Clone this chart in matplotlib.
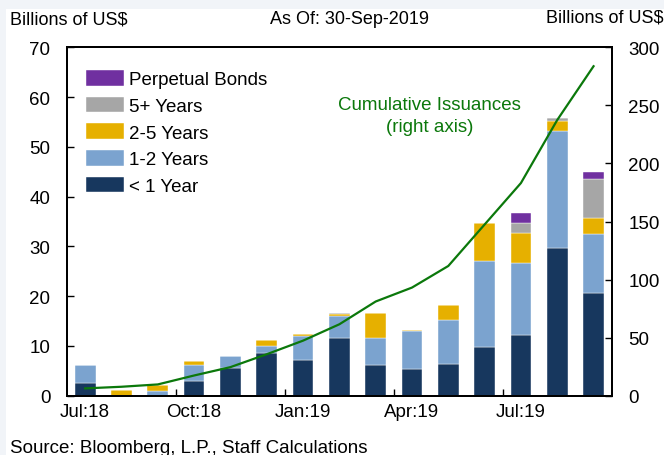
import matplotlib
matplotlib.use("Agg")
import matplotlib.pyplot as plt
import numpy as np
from matplotlib.patches import Rectangle

plt.rcParams['font.family'] = ['Liberation Sans', 'DejaVu Sans']

months = ["Jul:18", "Aug:18", "Sep:18", "Oct:18", "Nov:18", "Dec:18", "Jan:19",
          "Feb:19", "Mar:19", "Apr:19", "May:19", "Jun:19", "Jul:19", "Aug:19", "Sep:19"]
lt1y = [2.5, 0.0, 0.0, 2.9, 5.5, 8.5, 7.1, 11.6, 6.1, 5.3, 6.3, 9.7, 12.1, 29.6, 20.7]
y1to2 = [3.6, 0.0, 0.9, 3.2, 2.5, 1.5, 4.8, 4.5, 5.5, 7.6, 9.0, 17.4, 14.5, 23.5, 11.8]
y2to5 = [0.0, 1.1, 1.3, 0.8, 0.0, 1.2, 0.4, 0.3, 5.1, 0.2, 2.9, 7.6, 6.0, 2.0, 3.2]
y5plus = [0.0, 0.0, 0.0, 0.0, 0.0, 0.0, 0.0, 0.2, 0.0, 0.0, 0.0, 0.0, 2.0, 0.6, 7.8]
perpetual = [0.0, 0.0, 0.0, 0.0, 0.0, 0.0, 0.0, 0.0, 0.0, 0.0, 0.0, 0.0, 2.2, 0.0, 1.5]
cumulative = [6.3, 7.7, 9.7, 17.4, 24.6, 35.7, 47.4, 61.5, 81.1, 93.1, 111.7, 147.4, 183.1, 237.4, 283.7]
xtick_labels = ["Jul:18", "Oct:18", "Jan:19", "Apr:19", "Jul:19"]

W, H = 664, 456
fig = plt.figure(figsize=(W / 100, H / 100), dpi=100)
fig.patch.set_facecolor("#f1f4f8")
fig.add_artist(Rectangle((6 / W, 0), 1 - 6 / W, 1 - 10 / H, transform=fig.transFigure,
                         facecolor="white", edgecolor="none", zorder=0))

L, R, T, B = 67, 611.7, 48.3, 396.7
ax = fig.add_axes([L / W, 1 - B / H, (R - L) / W, (B - T) / H])
ax.set_facecolor("white")

FS = 13.5
x = np.arange(len(months))
series = [
    ("< 1 Year", lt1y, "#17375e"),
    ("1-2 Years", y1to2, "#7ba3cf"),
    ("2-5 Years", y2to5, "#e6b000"),
    ("5+ Years", y5plus, "#a6a6a6"),
    ("Perpetual Bonds", perpetual, "#7030a0"),
]
bottom = np.zeros(len(months))
handles = []
for name, vals, col in series:
    v = np.array(vals)
    b = ax.bar(x, v, 0.57, bottom=bottom, color=col, label=name,
               edgecolor="white", linewidth=0.3, zorder=2)
    handles.append(b)
    bottom += v

ax.set_xlim(-0.5, len(months) - 0.5)
ax.set_ylim(0, 70)
ax.set_yticks(np.arange(0, 71, 10))
ax.tick_params(axis="y", direction="in", length=5, width=1, labelsize=FS, pad=12)
ax.set_xticks([0, 3, 6, 9, 12])
ax.set_xticklabels(xtick_labels)
ax.tick_params(axis="x", which="major", length=0, labelsize=FS, pad=5)
ax.set_xticks([2.5, 5.5, 8.5, 11.5], minor=True)
ax.tick_params(axis="x", which="minor", direction="in", length=5, width=1)
for s in ax.spines.values():
    s.set_linewidth(1.4)
    s.set_color("black")

ax2 = ax.twinx()
ax2.plot(x, cumulative, color="#0b780b", linewidth=1.6, zorder=3)
ax2.set_ylim(0, 300)
ax2.set_yticks(np.arange(0, 301, 50))
ax2.tick_params(axis="y", direction="in", length=5, width=1, labelsize=FS, pad=12)
for s in ax2.spines.values():
    s.set_linewidth(1.4)

leg = ax.legend(handles[::-1], [h.get_label() for h in handles[::-1]],
                loc="upper left", bbox_to_anchor=(0.035, 0.935), frameon=False,
                fontsize=FS, handlelength=2.0, handleheight=0.9,
                labelspacing=0.45, handletextpad=0.3, borderaxespad=0, borderpad=0)

ax.text(0.665, 0.805, "Cumulative Issuances\n(right axis)", transform=ax.transAxes,
        ha="center", va="center", color="#0b780b", fontsize=FS, linespacing=1.35)

fig.text(10 / W, 1 - 20 / H, "Billions of US$", ha="left", va="center", fontsize=13)
fig.text(350 / W, 1 - 20 / H, "As Of: 30-Sep-2019", ha="center", va="center", fontsize=13)
fig.text(664 / W, 1 - 18 / H, "Billions of US$", ha="right", va="center", fontsize=13)
fig.text(10 / W, 1 - 449 / H, "Source: Bloomberg, L.P., Staff Calculations",
         ha="left", va="center", fontsize=FS)

fig.savefig("out.png", dpi=100, facecolor=fig.get_facecolor())
